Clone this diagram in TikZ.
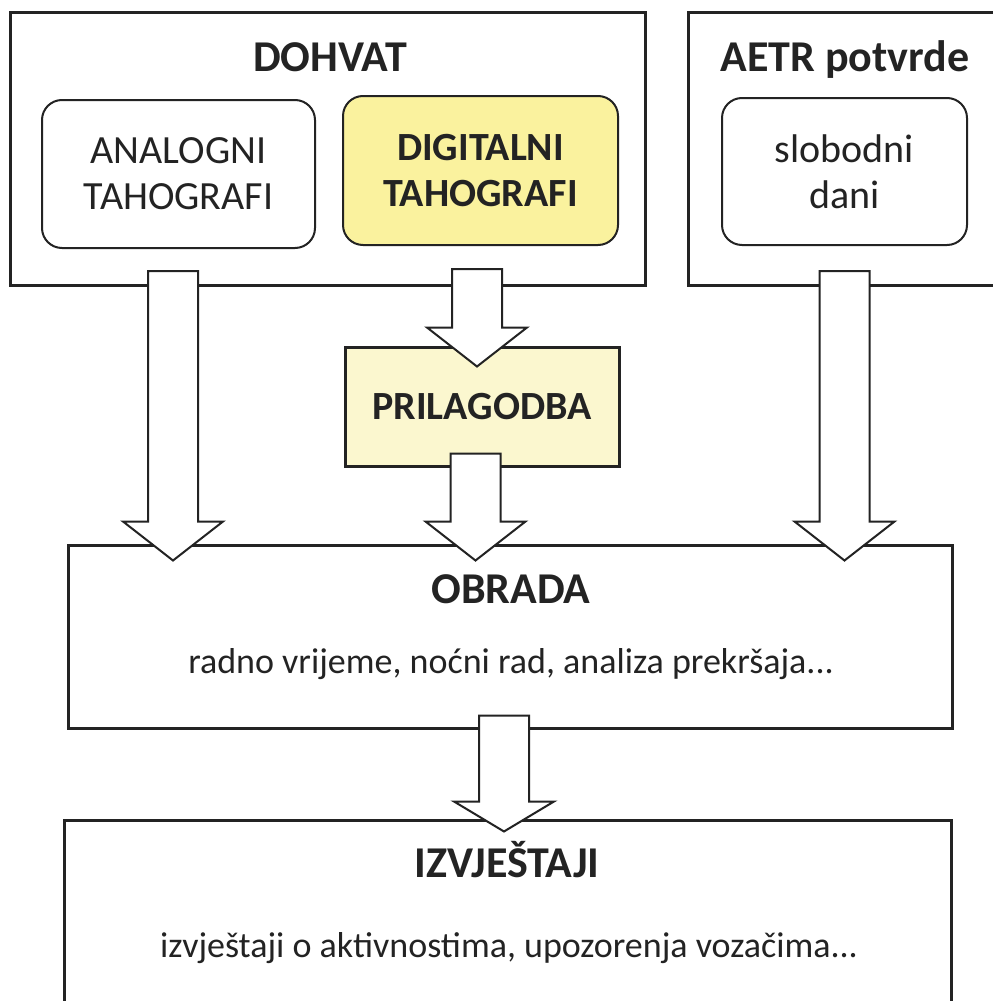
\documentclass[tikz,border=0pt]{standalone}
\usepackage{fontspec}
\setmainfont{Carlito}
\usetikzlibrary{calc,positioning}
\definecolor{digitalColor}{RGB}{250,242,158}
\definecolor{adjustColor}{RGB}{251,247,207}
\definecolor{lineColor}{RGB}{35,35,35}
\tikzset{outerbox/.style={draw=lineColor, line width=1.5pt, inner sep=0pt, text=lineColor}}
\tikzset{innerbox/.style={draw=lineColor, line width=1pt, rounded corners=10pt, align=center, font=\fontsize{20}{23}\selectfont, text=lineColor}}
\tikzset{boxtitle/.style={anchor=base, font=\fontsize{22}{26}\selectfont\bfseries, text=lineColor}}
\tikzset{boxtext/.style={anchor=base, font=\fontsize{18}{21}\selectfont, text=lineColor}}
\tikzset{bigarrow/.style={draw=lineColor, fill=white, line width=1pt, to path={let \p1=(\tikztostart), \p2=(\tikztotarget) in (\x1-12.5pt,\y1) -- (\x1+12.5pt,\y1) -- (\x1+12.5pt,\y2+#1) -- (\x1+25pt,\y2+#1) -- (\x1,\y2) -- (\x1-25pt,\y2+#1) -- (\x1-12.5pt,\y2+#1) -- cycle}}, bigarrow/.default=19.5pt}

\begin{document}
\begin{tikzpicture}[x=0.5pt, y=-0.5pt]
\useasboundingbox (0,0) rectangle (992,1001);
% Nodes
    \node (Dohvat) [outerbox, minimum width=317.5pt, minimum height=136.5pt] at (327.5,148.5) {};
    \node (Aetr) [outerbox, minimum width=156pt, minimum height=136.5pt] at (844,148.5) {};

    \node (DohvatTitle) [boxtitle] at (330,71) {DOHVAT};
    \node (AetrTitle) [boxtitle] at (845,71) {AETR potvrde};

    \node (Analogni) [innerbox, minimum width=136.5pt, minimum height=74pt] at (178.5,174) {ANALOGNI\\ TAHOGRAFI};
    \node (Digitalni) [innerbox, fill=digitalColor, font=\fontsize{20}{23}\selectfont\bfseries, minimum width=137.5pt, minimum height=74.5pt] at (480.5,170.5) {DIGITALNI\\ TAHOGRAFI};
    \node (SlobodniDani) [innerbox, minimum width=122.5pt, minimum height=73.5pt] at (844.5,171.5) {slobodni\\ dani};

    \node (Prilagodba) [outerbox, fill=adjustColor, font=\fontsize{20}{23}\selectfont\bfseries, minimum width=137pt, minimum height=59.5pt] at (482,406.5) {PRILAGODBA};

    \node (Obrada) [outerbox, minimum width=442pt, minimum height=91.5pt] at (510,636.5) {};
    \node (ObradaTitle) [boxtitle] at (511,603) {OBRADA};
    \node (ObradaText) [boxtext] at (511,673) {radno vrijeme, noćni rad, analiza prekršaja...};

    \node (Izvjestaji) [outerbox, minimum width=443.5pt, minimum height=95pt] at (507.5,915) {};
    \node (IzvjestajiTitle) [boxtitle] at (507,877) {IZVJEŠTAJI};
    \node (IzvjestajiText) [boxtext] at (509,957) {izvještaji o aktivnostima, upozorenja vozačima...};

% Connectors
    \draw [bigarrow] ([xshift=-2.75pt,yshift=-11pt]Analogni.south) to ([yshift=-8.5pt]Obrada.north);
    \draw [bigarrow] ([xshift=-1.75pt,yshift=-11.5pt]Digitalni.south) to ([yshift=-10.5pt]Prilagodba.north);
    \draw [bigarrow] ([xshift=-3.25pt,yshift=7pt]Prilagodba.south) to ([yshift=-8.5pt]Obrada.north);
    \draw [bigarrow] ([yshift=-12.5pt]SlobodniDani.south) to ([yshift=-8.5pt]Obrada.north);
    \draw [bigarrow=15pt] ([xshift=-3pt,yshift=7pt]Obrada.south) to ([yshift=-6.5pt]Izvjestaji.north);

\end{tikzpicture}
\end{document}
